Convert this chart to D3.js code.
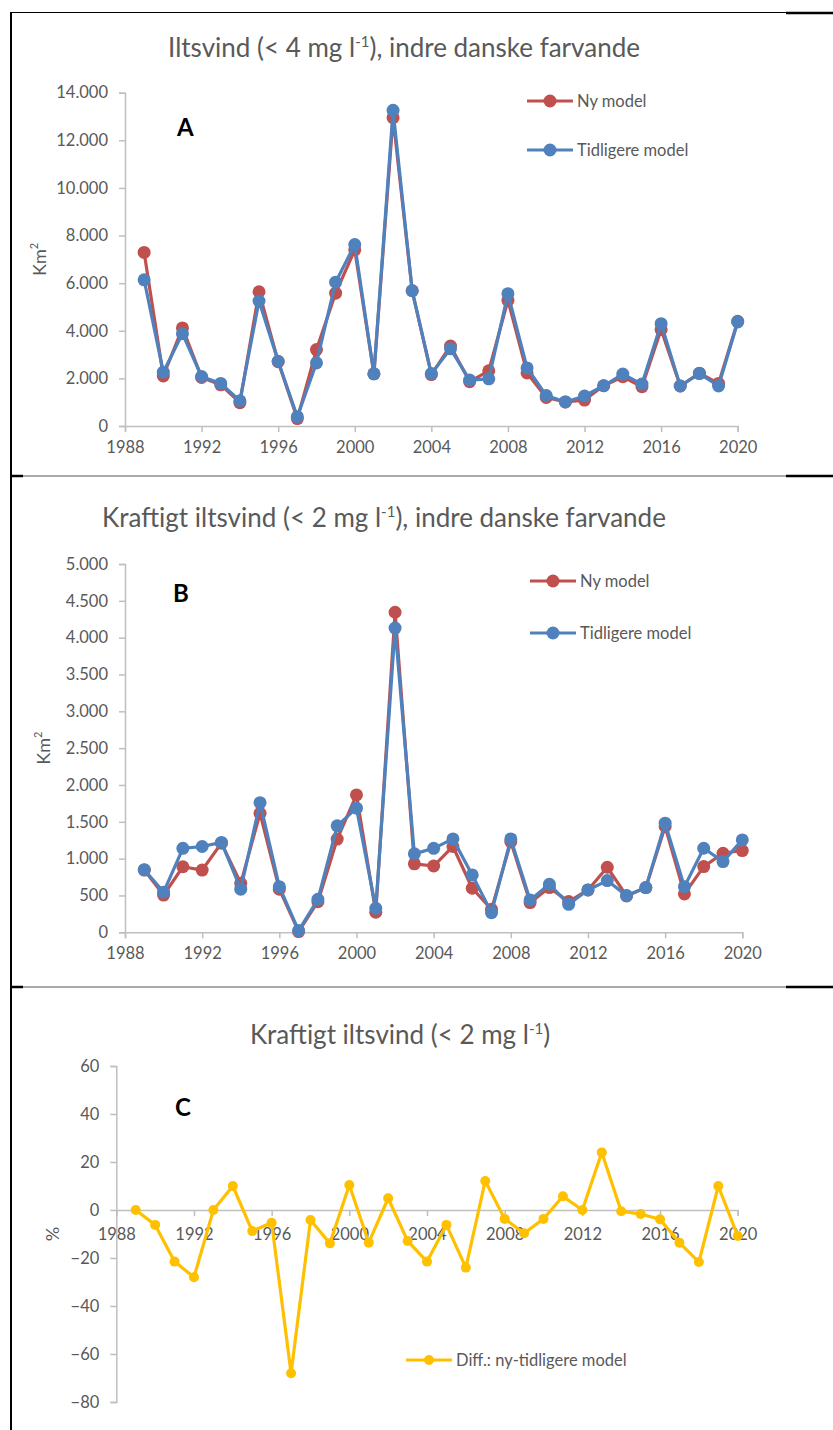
<!DOCTYPE html>
<html>
<head>
<meta charset="utf-8">
<script src="https://cdn.jsdelivr.net/npm/d3@7"></script>
<style>
  body { margin: 0; background: #fff; }
  svg { display: block; }
  text { font-family: Lato, "Open Sans", sans-serif; }
</style>
</head>
<body>
<script>
// years on the x axis
const years = [1989, 1990, 1991, 1992, 1993, 1994, 1995, 1996, 1997, 1998, 1999, 2000,
  2001, 2002, 2003, 2004, 2005, 2006, 2007, 2008, 2009, 2010, 2011, 2012,
  2013, 2014, 2015, 2016, 2017, 2018, 2019, 2020];
const xTicks = [1988, 1992, 1996, 2000, 2004, 2008, 2012, 2016, 2020];

// A: iltsvind < 4 mg/l, km2
const nyA = [7290, 2100, 4120, 2040, 1730, 980, 5640, 2700, 310, 3210, 5580, 7400,
  2190, 12950, 5680, 2160, 3360, 1860, 2320, 5280, 2230, 1200, 1010, 1090,
  1690, 2070, 1650, 4050, 1680, 2220, 1790, 4400];
const tidA = [6140, 2260, 3880, 2080, 1790, 1060, 5250, 2720, 390, 2650, 6040, 7620,
  2190, 13260, 5680, 2200, 3240, 1930, 1980, 5560, 2440, 1280, 1010, 1260,
  1690, 2180, 1760, 4300, 1680, 2200, 1680, 4370];
const yTicksA = [0, 2000, 4000, 6000, 8000, 10000, 12000, 14000];

// B: kraftigt iltsvind < 2 mg/l, km2
const nyB = [845, 505, 890, 845, 1210, 665, 1615, 585, 10, 415, 1265, 1865,
  272, 4345, 930, 900, 1165, 598, 312, 1230, 403, 607, 417, 575,
  883, 494, 607, 1436, 521, 892, 1073, 1110];
const tidB = [850, 545, 1140, 1165, 1220, 585, 1760, 620, 23, 448, 1445, 1685,
  326, 4130, 1065, 1140, 1268, 779, 267, 1268, 439, 652, 380, 575,
  702, 498, 607, 1481, 620, 1141, 960, 1254];
const yTicksB = [0, 500, 1000, 1500, 2000, 2500, 3000, 3500, 4000, 4500, 5000];

// C: difference ny - tidligere, %
const diffC = [0, -6.2, -21.5, -28, 0, 10, -8.8, -5.3, -68, -4.2, -13.9, 10.4,
  -13.6, 4.9, -12.9, -21.5, -6.2, -24, 12.1, -3.7, -9.7, -3.7, 5.7, 0,
  24, -0.5, -1.7, -3.9, -13.6, -21.7, 10, -10.8];
const yTicksC = [-80, -60, -40, -20, 0, 20, 40, 60];

const red = "#c0504d", blue = "#4f81bd", yellow = "#ffc000";
const grey = "#595959", axisGrey = "#bfbfbf";

const fmt = d3.formatLocale({ decimal: ",", thousands: ".", grouping: [3], currency: ["", ""] }).format(",d");

const svg = d3.select("body").append("svg")
  .attr("width", 833)
  .attr("height", 1430);

// table borders
const border = svg.append("g").attr("stroke", "#000");
border.append("line").attr("x1", 11).attr("x2", 11).attr("y1", 12).attr("y2", 1430).attr("stroke-width", 2);
border.append("line").attr("x1", 10).attr("x2", 786).attr("y1", 12.5).attr("y2", 12.5).attr("stroke-width", 1);
border.append("line").attr("x1", 786).attr("x2", 833).attr("y1", 13).attr("y2", 13).attr("stroke-width", 2.5);
[476, 987].forEach(y => {
  border.append("line").attr("x1", 10).attr("x2", 23).attr("y1", y).attr("y2", y).attr("stroke-width", 2.5);
  border.append("line").attr("x1", 23).attr("x2", 786).attr("y1", y).attr("y2", y)
    .attr("stroke-width", 1).attr("stroke", "#555");
  border.append("line").attr("x1", 786).attr("x2", 833).attr("y1", y).attr("y2", y).attr("stroke-width", 2.5);
});

function title(cx, y, pre, post) {
  const t = svg.append("text")
    .attr("x", cx).attr("y", y)
    .attr("text-anchor", "middle")
    .attr("fill", grey)
    .attr("font-size", 26);
  t.append("tspan").text(pre);
  t.append("tspan").attr("font-size", 15).attr("dy", -10).text("-1");
  t.append("tspan").attr("dy", 10).text(post);
}

function drawPanel(p) {
  const x = d3.scaleLinear().domain([1988, 2020]).range([p.x0, p.x1]);
  const y = d3.scaleLinear().domain(d3.extent(p.yTicks)).range([p.yBottom, p.yTop]);
  const zeroY = y(0);

  // y axis
  const gy = svg.append("g")
    .attr("transform", `translate(${p.x0},0)`)
    .call(d3.axisLeft(y).tickValues(p.yTicks).tickFormat(p.fmt).tickSizeOuter(0).tickSize(6).tickPadding(11));
  gy.select(".domain").attr("stroke", axisGrey).attr("stroke-width", 1.5);
  gy.selectAll(".tick line").attr("stroke", axisGrey).attr("stroke-width", 1.5);
  gy.selectAll(".tick text").attr("fill", grey).attr("font-size", 16.5).attr("font-family", "Lato");

  // x axis
  const gx = svg.append("g")
    .attr("transform", `translate(0,${zeroY})`)
    .call(d3.axisBottom(x).tickValues(xTicks).tickFormat(d3.format("d")).tickSizeOuter(0).tickSize(6).tickPadding(p.xPad));
  gx.select(".domain").attr("stroke", axisGrey).attr("stroke-width", 1.5);
  gx.selectAll(".tick line").attr("stroke", axisGrey).attr("stroke-width", 1.5);
  gx.selectAll(".tick text").attr("fill", grey).attr("font-size", 16.5).attr("font-family", "Lato");

  // y label
  const yl = svg.append("text")
    .attr("transform", `translate(${p.labelX},${(p.yTop + p.yBottom) / 2}) rotate(-90)`)
    .attr("text-anchor", "middle")
    .attr("fill", grey)
    .attr("font-size", 18);
  yl.append("tspan").text(p.yLabel);
  if (p.sup) yl.append("tspan").attr("font-size", 11).attr("dy", -8).text(p.sup);

  // panel letter
  svg.append("text")
    .attr("x", p.letterX).attr("y", p.letterY)
    .attr("font-family", "Liberation Sans, Arial, sans-serif")
    .attr("font-weight", "bold")
    .attr("font-size", 24)
    .attr("fill", "#000")
    .text(p.letter);

  const line = d3.line().x((d, i) => x(years[i])).y(d => y(d));

  p.series.forEach(s => {
    svg.append("path")
      .datum(s.values)
      .attr("fill", "none")
      .attr("stroke", s.color)
      .attr("stroke-width", 3.2)
      .attr("stroke-linejoin", "round")
      .attr("d", line);
    svg.append("g").selectAll("circle")
      .data(s.values)
      .join("circle")
      .attr("cx", (d, i) => x(years[i]))
      .attr("cy", d => y(d))
      .attr("r", s.r)
      .attr("fill", s.color);

    // legend entry
    svg.append("line")
      .attr("x1", s.lx).attr("x2", s.lx + 46)
      .attr("y1", s.ly).attr("y2", s.ly)
      .attr("stroke", s.color).attr("stroke-width", 3.2);
    svg.append("circle")
      .attr("cx", s.lx + 23).attr("cy", s.ly).attr("r", s.r)
      .attr("fill", s.color);
    svg.append("text")
      .attr("x", s.lx + 50).attr("y", s.ly + 6)
      .attr("fill", grey)
      .attr("font-size", 16.5)
      .text(s.name);
  });
}

title(404, 57, "Iltsvind (< 4 mg l", "), indre danske farvande");
drawPanel({
  x0: 125, x1: 737.7, yTop: 92.7, yBottom: 426, yTicks: yTicksA, fmt: fmt, xPad: 9,
  labelX: 46, yLabel: "Km", sup: "2", letter: "A", letterX: 177, letterY: 136,
  series: [
    { name: "Ny model", values: nyA, color: red, r: 6.5, lx: 527, ly: 101 },
    { name: "Tidligere model", values: tidA, color: blue, r: 6.5, lx: 527, ly: 150 }
  ]
});

title(384, 527, "Kraftigt iltsvind (< 2 mg l", "), indre danske farvande");
drawPanel({
  x0: 125, x1: 742.3, yTop: 564, yBottom: 932.3, yTicks: yTicksB, fmt: fmt, xPad: 9,
  labelX: 50, yLabel: "Km", sup: "2", letter: "B", letterX: 173, letterY: 602,
  series: [
    { name: "Ny model", values: nyB, color: red, r: 6.5, lx: 530, ly: 581 },
    { name: "Tidligere model", values: tidB, color: blue, r: 6.5, lx: 530, ly: 633 }
  ]
});

title(400, 1044, "Kraftigt iltsvind (< 2 mg l", ")");
drawPanel({
  x0: 116.3, x1: 737.7, yTop: 1066, yBottom: 1402, yTicks: yTicksC, fmt: d3.format("d"), xPad: 12,
  labelX: 59, yLabel: "%", sup: null, letter: "C", letterX: 175, letterY: 1116,
  series: [
    { name: "Diff.: ny-tidligere model", values: diffC, color: yellow, r: 5, lx: 406, ly: 1360 }
  ]
});
</script>
</body>
</html>
